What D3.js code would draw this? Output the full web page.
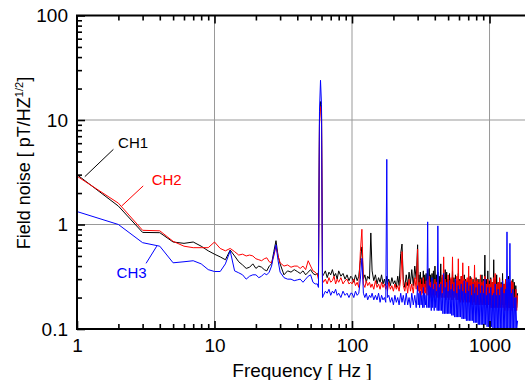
<!DOCTYPE html>
<html><head><meta charset="utf-8">
<script src="https://cdn.jsdelivr.net/npm/d3@7"></script>
<style>body{margin:0;background:#fff} text{font-family:"Liberation Sans",Arial,sans-serif}</style>
</head><body><svg id="c" width="525" height="380"></svg>
<script>
const freq = [1,2,3,4,5,6,7,8,9,10,
11,12,13,14,15,16,17,18,19,20,
21,22,23,24,25,26,27,28,29,30,
32,34,36,38,40,42,44,46,48,50,
52,54,56,57,58,59,60,61,62,64,
66,68,70,72,74,76,78,80,83,86,
89,92,95,98,
100,103,106,109,112,115,118,121,124,127,
130,134,137,140,144,148,152,156,160,164,
168,172,176,179,181,185,190,195,200,205,
210,215,220,226,231,236,242,248,254,260,
266,272,279,286,293,
300,303,307,310,314,318,322,326,330,334,
338,342,346,350,355,359,364,368,373,377,
382,386,391,396,401,406,411,416,421,426,
431,436,442,447,453,458,464,470,476,482,
488,494,500,506,512,518,525,531,538,544,
551,558,565,572,579,586,593,600,608,615,
623,631,639,647,655,663,671,679,688,696,
705,714,723,732,741,750,759,768,778,788,
798,808,818,828,838,848,859,870,881,892,
903,914,925,936,948,960,972,984,996,1008,
1021,1034,1047,1060,1073,1086,1100,1113,1127,1141,
1155,1169,1184,1199,1214,1229,1244,1259,1275,1291,
1307,1323,1340,1356,1373,1390,1407,1424,1442,1460,
1478,1496,1515,1534,1553,1576,1600];

const ch1 = [3.0,1.50,0.84,0.835,0.68,0.66,0.68,0.62,0.56,0.52,
0.49,0.46,0.57,0.50,0.44,0.41,0.38,0.39,0.42,0.38,
0.40,0.39,0.37,0.36,0.40,0.42,0.55,0.70,0.50,0.42,
0.33,0.36,0.35,0.37,0.355,0.34,0.36,0.33,0.35,0.37,
0.34,0.33,0.34,0.32,10,15,13,0.32,0.33,0.36,
0.31,0.35,0.33,0.37,0.32,0.34,0.30,0.36,0.32,0.34,
0.30,0.33,0.29,0.32,
0.31,0.28,0.33,0.29,0.32,0.45,0.61,0.30,0.33,0.28,
0.32,0.30,0.83,0.36,0.29,0.33,0.27,0.31,0.28,0.33,
0.27,0.30,0.26,0.32,0.27,0.30,0.26,0.31,0.27,0.29,
0.25,0.32,0.26,0.53,0.65,0.30,0.25,0.33,0.26,0.35,
0.27,0.37,0.26,0.40,0.30,
0.64,0.26,0.33,0.25,0.35,0.24,0.31,0.25,0.36,0.23,
0.33,0.25,0.34,0.24,0.37,0.23,0.38,0.24,0.33,0.23,
0.34,0.24,0.36,0.23,0.40,0.24,0.33,0.23,0.35,0.22,
0.32,0.23,0.42,0.22,0.31,0.23,0.33,0.22,0.37,0.22,
0.35,0.21,0.30,0.22,0.34,0.21,0.30,0.22,0.36,0.21,
0.31,0.21,0.33,0.21,0.29,0.20,0.34,0.21,0.30,0.20,
0.32,0.21,0.29,0.20,0.33,0.20,0.30,0.19,0.29,0.20,
0.31,0.19,0.32,0.19,0.28,0.19,0.30,0.19,0.28,0.18,
0.31,0.19,0.29,0.18,0.30,0.18,0.28,0.18,0.33,0.18,
0.30,0.18,0.51,0.18,0.30,0.18,0.36,0.18,0.29,0.17,
0.31,0.17,0.28,0.17,0.46,0.18,0.30,0.17,0.33,0.17,
0.28,0.17,0.30,0.17,0.28,0.17,0.34,0.17,0.27,0.17,
0.29,0.17,0.27,0.17,0.32,0.16,0.28,0.16,0.27,0.16,
0.30,0.16,0.28,0.16,0.26,0.16,0.22];

const ch2 = [2.9,1.60,0.88,0.87,0.69,0.62,0.60,0.60,0.60,0.68,
0.59,0.56,0.59,0.55,0.51,0.52,0.50,0.51,0.50,0.47,
0.46,0.45,0.47,0.48,0.44,0.43,0.50,0.62,0.50,0.43,
0.40,0.41,0.39,0.40,0.40,0.38,0.40,0.37,0.45,0.40,
0.36,0.35,0.33,0.30,9,13.4,12,0.30,0.28,0.30,
0.27,0.31,0.28,0.29,0.32,0.27,0.30,0.28,0.31,0.27,
0.29,0.30,0.27,0.28,
0.27,0.30,0.26,0.28,0.25,0.55,0.90,0.27,0.25,0.29,
0.26,0.28,0.25,0.27,0.24,0.29,0.25,0.27,0.24,0.28,
0.25,0.27,0.24,0.26,0.23,0.28,0.24,0.26,0.23,0.27,
0.24,0.26,0.23,0.30,0.55,0.26,0.23,0.28,0.22,0.30,
0.23,0.27,0.22,0.31,0.24,
0.58,0.23,0.28,0.22,0.30,0.21,0.27,0.22,0.31,0.21,
0.27,0.22,0.29,0.21,0.30,0.21,0.32,0.21,0.28,0.20,
0.29,0.21,0.27,0.20,0.30,0.21,0.28,0.20,0.31,0.20,
0.27,0.21,0.28,0.20,0.33,0.20,0.49,0.20,0.30,0.19,
0.27,0.20,0.33,0.19,0.29,0.20,0.31,0.19,0.49,0.19,
0.28,0.20,0.30,0.19,0.32,0.19,0.47,0.19,0.29,0.18,
0.32,0.19,0.43,0.18,0.30,0.19,0.29,0.18,0.31,0.18,
0.40,0.18,0.30,0.18,0.31,0.17,0.28,0.18,0.41,0.17,
0.29,0.17,0.30,0.17,0.28,0.17,0.33,0.17,0.28,0.17,
0.29,0.17,0.32,0.17,0.27,0.16,0.30,0.17,0.27,0.16,
0.30,0.16,0.28,0.16,0.31,0.16,0.34,0.16,0.27,0.16,
0.28,0.16,0.31,0.16,0.27,0.16,0.29,0.16,0.27,0.15,
0.30,0.16,0.28,0.15,0.27,0.16,0.26,0.15,0.29,0.15,
0.28,0.16,0.20,0.15,0.24,0.15,0.21];

const ch3 = [1.33,1.0,0.67,0.62,0.43,0.44,0.45,0.42,0.37,0.355,
0.355,0.42,0.56,0.36,0.345,0.33,0.30,0.32,0.33,0.33,
0.31,0.32,0.34,0.33,0.35,0.40,0.52,0.64,0.45,0.35,
0.31,0.30,0.30,0.29,0.295,0.30,0.28,0.30,0.32,0.33,
0.28,0.27,0.27,0.25,12,24,14,0.20,0.21,0.23,
0.22,0.24,0.21,0.23,0.22,0.24,0.21,0.22,0.20,0.23,
0.21,0.22,0.20,0.22,
0.22,0.20,0.23,0.21,0.22,0.30,0.475,0.22,0.20,0.22,
0.19,0.21,0.20,0.22,0.19,0.21,0.19,0.22,0.18,0.21,
0.19,0.20,0.18,4.2,0.20,0.21,0.18,0.20,0.17,0.21,
0.18,0.20,0.17,0.22,0.18,0.21,0.17,0.22,0.17,0.20,
0.16,0.22,0.17,0.21,0.16,
0.26,0.17,0.22,0.16,0.23,0.17,0.21,0.16,0.25,0.16,
0.22,0.17,0.21,0.16,1.06,0.16,0.26,0.16,0.25,0.15,
0.31,0.16,0.24,0.15,0.27,0.16,0.23,0.15,0.97,0.15,
0.25,0.15,0.27,0.15,0.22,0.14,0.34,0.14,0.25,0.14,
0.28,0.14,0.23,0.14,0.29,0.14,0.24,0.135,0.27,0.135,
0.23,0.13,0.30,0.13,0.22,0.13,0.26,0.13,0.24,0.13,
0.27,0.125,0.23,0.125,0.29,0.125,0.22,0.12,0.28,0.12,
0.23,0.12,0.26,0.12,0.21,0.12,0.27,0.115,0.22,0.115,
0.25,0.115,0.21,0.11,0.27,0.11,0.22,0.11,0.26,0.11,
0.22,0.11,0.30,0.11,0.21,0.105,0.25,0.105,0.22,0.105,
0.25,0.105,0.21,0.10,0.22,0.10,0.27,0.10,0.21,0.10,
0.24,0.10,0.21,0.10,0.25,0.10,0.29,0.10,0.22,0.10,
0.24,0.10,0.85,0.10,0.30,0.10,0.66,0.10,0.22,0.10,
0.24,0.10,0.20,0.10,0.20,0.10,0.12];

const seriesNames = ["CH1","CH2","CH3"];
const seriesColors = ["#000000","#ff0000","#0000ff"];

const xMajor = [1,10,100,1000];
const xMinor = [2,3,4,5,6,7,8,9,20,30,40,50,60,70,80,90,200,300,400,500,600,700,800,900];
const yMajor = [0.1,1,10,100];
const yMinor = [0.2,0.3,0.4,0.5,0.6,0.7,0.8,0.9,2,3,4,5,6,7,8,9,20,30,40,50,60,70,80,90];
const xGrid = [10,100,1000];
const yGrid = [1,10];

// label annotations in data units: text anchor and leader line ends
const annot = [
  {name:"CH1", at:[1.99,5.4], from:[1.84,5.24], to:[1.14,2.87]},
  {name:"CH2", at:[3.49,2.39], from:[3.03,2.34], to:[2.11,1.50]},
  {name:"CH3", at:[1.94,0.308], from:[3.8,0.62], to:[3.18,0.425]}
];

const L=77, R=526, T=15.5, B=329;
const svg = d3.select("#c");
const x = d3.scaleLog().domain([1,1842]).range([L,R]);
const y = d3.scaleLog().domain([0.1,100]).range([B,T]);

svg.append("defs").append("clipPath").attr("id","clip")
  .append("rect").attr("x",L).attr("y",T).attr("width",R-L).attr("height",B-T);

// grid
svg.append("g").selectAll("line").data(xGrid).join("line")
  .attr("x1",d=>x(d)).attr("x2",d=>x(d)).attr("y1",T).attr("y2",B)
  .attr("stroke","#999").attr("stroke-width",1);
svg.append("g").selectAll("line").data(yGrid).join("line")
  .attr("y1",d=>y(d)).attr("y2",d=>y(d)).attr("x1",L).attr("x2",R)
  .attr("stroke","#999").attr("stroke-width",1);

// data
const seriesVals = [ch1,ch2,ch3];
const idx = d3.range(freq.length);
const gData = svg.append("g").attr("clip-path","url(#clip)");
seriesVals.forEach((vals,k)=>{
  const line = d3.line().x(i=>x(freq[i])).y(i=>y(vals[i]));
  gData.append("path").attr("d",line(idx.filter(i=>vals[i]!==undefined)))
    .attr("fill","none").attr("stroke",seriesColors[k]).attr("stroke-width",1)
    .attr("stroke-linejoin","miter");
});

// axes
function styleAxis(g){ g.select(".domain").remove(); g.selectAll(".tick line").attr("stroke","#000").attr("stroke-width",1.6); g.selectAll("text").attr("font-size",19).attr("fill","#000").style("font-family","'Liberation Sans',Arial,sans-serif"); }
const fmt = d=> d<1 ? "0.1" : String(d);
svg.append("g").attr("transform",`translate(0,${B})`)
  .call(d3.axisBottom(x).tickValues(xMajor).tickFormat(fmt).tickSize(-8).tickPadding(10)).call(styleAxis);
svg.append("g").attr("transform",`translate(0,${B})`)
  .call(d3.axisBottom(x).tickValues(xMinor).tickFormat("").tickSize(-5)).call(styleAxis);
svg.append("g").attr("transform",`translate(0,${T})`)
  .call(d3.axisTop(x).tickValues(xMajor.slice(1)).tickFormat("").tickSize(-8)).call(styleAxis);
svg.append("g").attr("transform",`translate(0,${T})`)
  .call(d3.axisTop(x).tickValues(xMinor).tickFormat("").tickSize(-5)).call(styleAxis);
svg.append("g").attr("transform",`translate(${L},0)`)
  .call(d3.axisLeft(y).tickValues(yMajor).tickFormat(fmt).tickSize(-8).tickPadding(9)).call(styleAxis);
svg.append("g").attr("transform",`translate(${L},0)`)
  .call(d3.axisLeft(y).tickValues(yMinor).tickFormat("").tickSize(-5)).call(styleAxis);

// frame
svg.append("path").attr("d",`M${R},${T}H${L}V${B}H${R}`)
  .attr("fill","none").attr("stroke","#000").attr("stroke-width",2);

// titles
svg.append("text").attr("x",302).attr("y",377).attr("text-anchor","middle")
  .attr("font-size",19).text("Frequency [ Hz ]");
const yt = svg.append("text").attr("transform","translate(30,163) rotate(-90)")
  .attr("text-anchor","middle").attr("font-size",18);
yt.append("tspan").text("Field noise [ pT/HZ");
yt.append("tspan").attr("font-size",11).attr("dy",-7).text("1/2");
yt.append("tspan").attr("dy",7).text("]");

// annotations
annot.forEach((a,k)=>{
  svg.append("line").attr("x1",x(a.from[0])).attr("y1",y(a.from[1]))
    .attr("x2",x(a.to[0])).attr("y2",y(a.to[1]))
    .attr("stroke",seriesColors[k]).attr("stroke-width",1);
  svg.append("text").attr("x",x(a.at[0])).attr("y",y(a.at[1]))
    .attr("font-size",15).attr("fill",seriesColors[k]).text(a.name);
});
console.log(freq.length, ch1.length, ch2.length, ch3.length);
</script></body></html>
